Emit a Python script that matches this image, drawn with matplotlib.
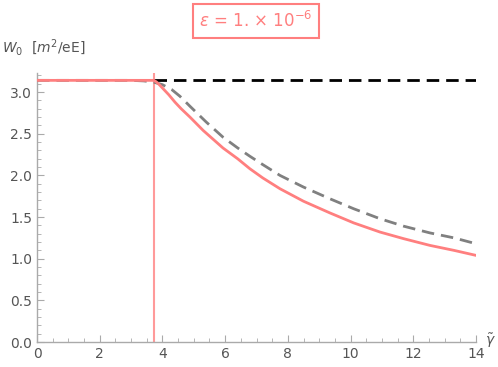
import numpy as np
import matplotlib
matplotlib.use('Agg')
import matplotlib.pyplot as plt
from matplotlib.ticker import MultipleLocator

# 数据
x_red = [0, 3.72, 3.80, 3.90, 4.00, 4.20, 4.40, 4.60, 4.88, 5.30, 5.93, 6.40, 6.79, 7.20, 7.75, 8.50, 9.34, 10.10, 10.94, 11.70, 12.53, 13.30, 14.0]
y_red = [np.pi, np.pi, 3.125, 3.09, 3.05, 2.97, 2.88, 2.80, 2.70, 2.54, 2.33, 2.20, 2.08, 1.97, 1.84, 1.69, 1.55, 1.43, 1.32, 1.24, 1.16, 1.10, 1.04]

x_gray = [0, 3.0, 3.40, 3.72, 4.00, 4.30, 4.56, 4.88, 5.40, 5.93, 6.40, 6.79, 7.20, 7.75, 8.50, 9.34, 10.10, 10.94, 11.70, 12.53, 13.30, 14.0]
y_gray = [np.pi, np.pi, 3.135, 3.12, 3.09, 3.03, 2.95, 2.83, 2.64, 2.46, 2.33, 2.23, 2.13, 2.00, 1.86, 1.72, 1.60, 1.48, 1.39, 1.31, 1.25, 1.18]

x_black = [3.72, 14.0]
y_black = [np.pi, np.pi]

x_cut = 3.72

red = '#ff7f7f'
gray_txt = '#555555'

fig = plt.figure(figsize=(4.98, 3.67), dpi=100)
ax = fig.add_axes([37/498, 25/367, (476-37)/498, (342-73)/367])

ax.axvline(x_cut, color='#ff9a9a', lw=1.5, zorder=1)
ax.plot(x_black, y_black, color='black', lw=2, ls=(0, (4.5, 2.5)), zorder=2)
ax.plot(x_gray, y_gray, color='#808080', lw=2, ls=(0, (4.5, 2.5)), zorder=3)
ax.plot(x_red, y_red, color=red, lw=2, zorder=4)

ax.set_xlim(0, 14)
ax.set_ylim(0, 3.23)
ax.xaxis.set_major_locator(MultipleLocator(2))
ax.xaxis.set_minor_locator(MultipleLocator(0.5))
ax.yaxis.set_major_locator(MultipleLocator(0.5))
ax.yaxis.set_minor_locator(MultipleLocator(0.1))
ax.xaxis.set_major_formatter(plt.FuncFormatter(lambda v, p: '%d' % v))
ax.yaxis.set_major_formatter(plt.FuncFormatter(lambda v, p: '%.1f' % v))

for s in ['top', 'right']:
    ax.spines[s].set_visible(False)
for s in ['left', 'bottom']:
    ax.spines[s].set_color('#aaaaaa')
    ax.spines[s].set_linewidth(1)
ax.tick_params(which='both', direction='in', color='#aaaaaa', labelcolor=gray_txt, labelsize=10)
ax.tick_params(which='major', length=5)
ax.tick_params(which='minor', length=3)

fig.text(2/498, 1 - 53/367, r'$W_0$  [$m^2$/eE]', color=gray_txt, fontsize=10, va='baseline')
fig.text(485/498, 1 - 345/367, r'$\tilde{\gamma}$', color=gray_txt, fontsize=10, va='baseline')

fig.text(256/498, 1 - 21/367, r'$\epsilon$ = 1. $\times$ 10$^{-6}$', color=red, fontsize=12,
         ha='center', va='center',
         bbox=dict(boxstyle='square,pad=0.4', fc='white', ec=red, lw=1.5))

fig.savefig('out.png', dpi=100)
